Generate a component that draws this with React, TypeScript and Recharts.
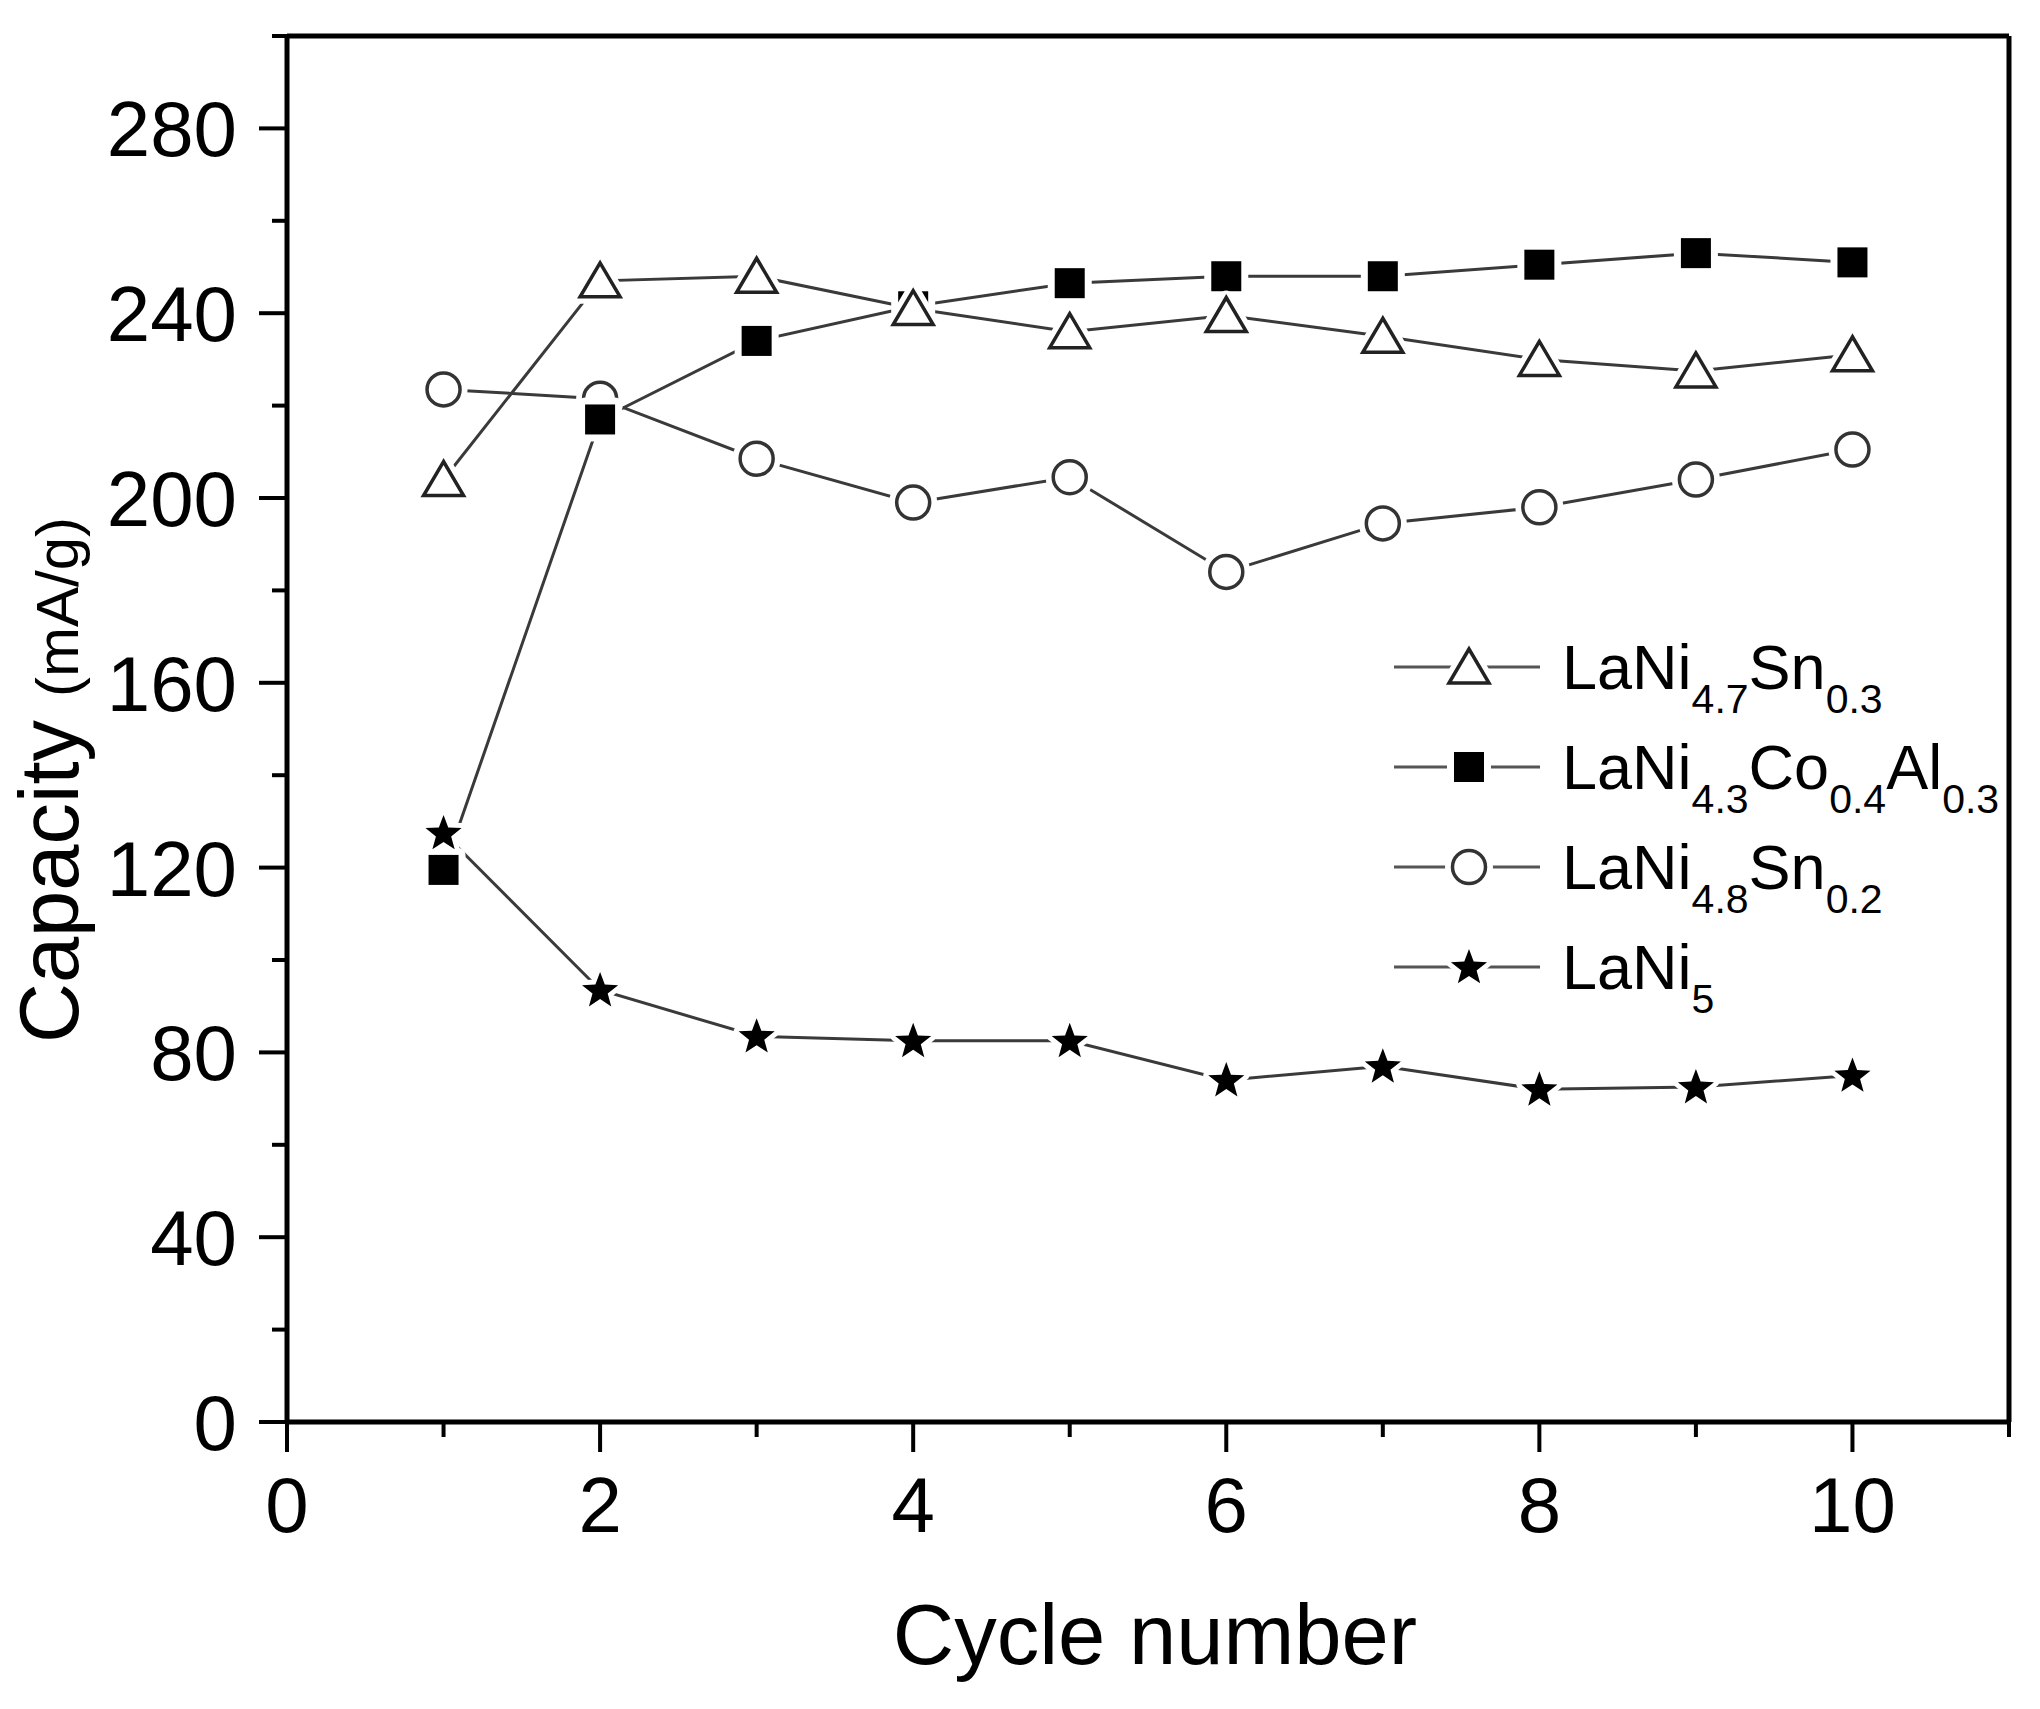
import React from 'react';
import { LineChart, Line, XAxis, YAxis, ReferenceLine, Legend } from 'recharts';

// capacity (mA/g) vs cycle number
const cycles = [1, 2, 3, 4, 5, 6, 7, 8, 9, 10];
const lani47sn03 = [204, 247, 248, 241, 236, 239.5, 235, 230, 227.5, 231];
const lani43co04al03 = [119.5, 217, 234, 241.5, 246.5, 248, 248, 250.5, 253, 251];
const lani48sn02 = [223.5, 221.5, 208.5, 199, 204.5, 184, 194.5, 198, 204, 210.5];
const lani5 = [127.5, 93.5, 83.5, 82.5, 82.5, 74, 77, 72, 72.5, 75];

const xTicks = [0, 1, 2, 3, 4, 5, 6, 7, 8, 9, 10, 11];
const xLabels = [0, 2, 4, 6, 8, 10];
const yTicks = [0, 20, 40, 60, 80, 100, 120, 140, 160, 180, 200, 220, 240, 260, 280, 300];
const yLabels = [0, 40, 80, 120, 160, 200, 240, 280];

const data = cycles.map((c, i) => ({
  cycle: c,
  sn03: lani47sn03[i],
  coal: lani43co04al03[i],
  sn02: lani48sn02[i],
  ni5: lani5[i],
}));

// draw order: circles, squares, triangles, stars (last on top)
const series = [
  { key: 'sn02', name: 'LaNi4.8Sn0.2', shape: 'circle' },
  { key: 'coal', name: 'LaNi4.3Co0.4Al0.3', shape: 'square' },
  { key: 'sn03', name: 'LaNi4.7Sn0.3', shape: 'triangle' },
  { key: 'ni5', name: 'LaNi5', shape: 'star' },
];
const legendOrder = ['sn03', 'coal', 'sn02', 'ni5'];

const FONT = '"Liberation Sans", Arial, sans-serif';
const LINE = '#3a3a3a';

function starPoints(cx: number, cy: number, ro: number, ri: number) {
  const pts: string[] = [];
  for (let k = 0; k < 10; k++) {
    const r = k % 2 === 0 ? ro : ri;
    const a = -Math.PI / 2 + (k * Math.PI) / 5;
    pts.push(`${cx + r * Math.cos(a)},${cy + r * Math.sin(a)}`);
  }
  return pts.join(' ');
}

function Marker({ shape, cx, cy }: { shape: string; cx: number; cy: number }) {
  if (cx == null || cy == null) return null;
  const halo = { stroke: '#fff', strokeWidth: 14, fill: '#fff', strokeLinejoin: 'round' as const };
  if (shape === 'triangle') {
    const pts = `${cx},${cy - 18} ${cx - 20},${cy + 16} ${cx + 20},${cy + 16}`;
    return (
      <g>
        <polygon points={pts} {...halo} />
        <polygon points={pts} fill="#fff" stroke="#222" strokeWidth={3.5} />
      </g>
    );
  }
  if (shape === 'square') {
    return (
      <g>
        <rect x={cx - 15} y={cy - 15} width={30} height={30} {...halo} />
        <rect x={cx - 15} y={cy - 15} width={30} height={30} fill="#000" />
      </g>
    );
  }
  if (shape === 'circle') {
    return (
      <g>
        <circle cx={cx} cy={cy} r={17} {...halo} />
        <circle cx={cx} cy={cy} r={16.5} fill="#fff" stroke="#333" strokeWidth={3.5} />
      </g>
    );
  }
  const pts = starPoints(cx, cy + 1, 19, 8);
  return (
    <g>
      <polygon points={pts} {...halo} strokeWidth={10} />
      <polygon points={pts} fill="#000" />
    </g>
  );
}

function XTick(props: any) {
  const { x, y, payload } = props;
  const v = payload.value;
  const major = xLabels.includes(v);
  return (
    <g>
      <line x1={x} x2={x} y1={y} y2={y + (major ? 30 : 15)} stroke="#000" strokeWidth={4} />
      {major && (
        <text x={x} y={y + 110} textAnchor="middle" fontSize={78} fontFamily={FONT} fill="#000">
          {v}
        </text>
      )}
    </g>
  );
}

function YTick(props: any) {
  const { x, y, payload } = props;
  const v = payload.value;
  const major = yLabels.includes(v);
  return (
    <g>
      <line x1={x - (major ? 28 : 15)} x2={x} y1={y} y2={y} stroke="#000" strokeWidth={4} />
      {major && (
        <text x={x - 50} y={y + 28} textAnchor="end" fontSize={78} fontFamily={FONT} fill="#000">
          {v}
        </text>
      )}
    </g>
  );
}

function YTitle() {
  return (
    <text x={78} y={780} transform="rotate(-90, 78, 780)" textAnchor="middle" fontFamily={FONT} fill="#000">
      <tspan fontSize={83}>Capacity </tspan>
      <tspan fontSize={60}>(mA/g)</tspan>
    </text>
  );
}

function XTitle() {
  return (
    <text x={1155} y={1664} textAnchor="middle" fontSize={85} fontFamily={FONT} fill="#000">
      Cycle number
    </text>
  );
}

function Formula({ name, x, y }: { name: string; x: number; y: number }) {
  const parts: { el: string; sub: string }[] = [];
  const re = /([A-Z][a-z]*)([\d.]*)/g;
  let m: RegExpExecArray | null;
  while ((m = re.exec(name)) !== null) parts.push({ el: m[1], sub: m[2] });
  const spans: React.ReactNode[] = [];
  let down = false;
  parts.forEach((p, i) => {
    spans.push(
      <tspan key={`e${i}`} fontSize={63} dy={down ? -24 : 0}>
        {p.el}
      </tspan>
    );
    down = false;
    if (p.sub) {
      spans.push(
        <tspan key={`s${i}`} fontSize={41} dy={24}>
          {p.sub}
        </tspan>
      );
      down = true;
    }
  });
  return (
    <text x={x} y={y} fontFamily={FONT} fill="#000">
      {spans}
    </text>
  );
}

function LegendBox() {
  return (
    <svg width={660} height={420}>
      {legendOrder.map((k, i) => {
        const s = series.find((d) => d.key === k)!;
        const cy = 52 + i * 100;
        return (
          <g key={k}>
            <line x1={14} x2={160} y1={cy} y2={cy} stroke="#555" strokeWidth={3} />
            <Marker shape={s.shape} cx={89} cy={cy} />
            <Formula name={s.name} x={182} y={cy + 22} />
          </g>
        );
      })}
    </svg>
  );
}

export default function App() {
  return (
    <div style={{ position: 'absolute', left: 0, top: 0, width: 2040, height: 1709, background: '#fff' }}>
      <LineChart width={2040} height={1709} data={data} margin={{ top: 36, right: 31, left: 0, bottom: 0 }}>
        <XAxis
          dataKey="cycle"
          type="number"
          domain={[0, 11]}
          ticks={xTicks}
          interval={0}
          height={287}
          tickSize={0}
          tickMargin={0}
          tickLine={false}
          tick={<XTick />}
          axisLine={{ stroke: '#000', strokeWidth: 5 }}
          label={<XTitle />}
        />
        <YAxis
          type="number"
          domain={[0, 300]}
          ticks={yTicks}
          interval={0}
          width={287}
          tickSize={0}
          tickMargin={0}
          tickLine={false}
          tick={<YTick />}
          axisLine={{ stroke: '#000', strokeWidth: 5 }}
          label={<YTitle />}
        />
        <ReferenceLine y={300} stroke="#000" strokeWidth={5} />
        <ReferenceLine x={11} stroke="#000" strokeWidth={5} />
        {series.map((s) => (
          <Line
            key={s.key}
            dataKey={s.key}
            name={s.name}
            type="linear"
            stroke={LINE}
            strokeWidth={3}
            isAnimationActive={false}
            dot={(p: any) => <Marker key={`${s.key}-${p.index}`} shape={s.shape} cx={p.cx} cy={p.cy} />}
            activeDot={false}
          />
        ))}
        <Legend
          layout="horizontal"
          verticalAlign="middle"
          align="center"
          content={() => <LegendBox />}
          wrapperStyle={{ left: 1380, top: 615, width: 660, height: 420 }}
        />
      </LineChart>
    </div>
  );
}
